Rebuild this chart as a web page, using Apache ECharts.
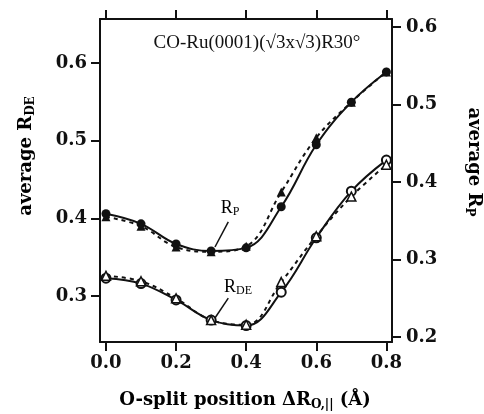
<!DOCTYPE html>
<html>
<head>
    <meta charset="utf-8">
    <script src="https://cdn.jsdelivr.net/npm/echarts@6/dist/echarts.min.js"></script>
</head>
<body style="margin:0;background-color:#ffffff">
    <div id="main" style="width:484px;height:414px;"></div>
    <script type="text/javascript">
        // O-split position (A)
        var xs = [0.0, 0.1, 0.2, 0.3, 0.4, 0.5, 0.6, 0.7, 0.8];
        // R_P (right axis): solid with filled circles, dashed with filled triangles
        var rpSolid = [0.359, 0.346, 0.320, 0.311, 0.315, 0.368, 0.448, 0.503, 0.542];
        var rpDash = [0.355, 0.343, 0.316, 0.310, 0.317, 0.387, 0.457, 0.503, 0.542];
        // R_DE (left axis): solid with open circles, dashed with open triangles
        var rdeSolid = [0.323, 0.316, 0.295, 0.269, 0.262, 0.305, 0.375, 0.435, 0.475];
        var rdeDash = [0.326, 0.319, 0.297, 0.269, 0.263, 0.318, 0.377, 0.428, 0.469];

        var xTicks = [0, 0.2, 0.4, 0.6, 0.8];
        var leftTicks = [0.3, 0.4, 0.5, 0.6];
        var rightTicks = [0.2, 0.3, 0.4, 0.5, 0.6];

        var ink = '#111';
        var tickFont = {color: ink, fontFamily: 'DejaVu Serif', fontWeight: 'bold', fontSize: 18};

        function pairs(ys) {
            var out = [];
            for (var i = 0; i < xs.length; i++) out.push([xs[i], ys[i]]);
            return out;
        }

        function valueAxis(opts) {
            var ax = {
                type: 'value',
                min: opts.min,
                max: opts.max,
                position: opts.position,
                splitLine: {show: false},
                axisLine: {show: true, onZero: false, lineStyle: {color: ink, width: 2}},
                axisTick: {show: opts.ticks != null, customValues: opts.ticks, length: 9, lineStyle: {color: ink, width: 2}},
                axisLabel: {show: !!opts.labels, customValues: opts.ticks, margin: opts.margin || 12,
                    formatter: function (v) { return v.toFixed(1); }}
            };
            for (var k in tickFont) ax.axisLabel[k] = tickFont[k];
            return ax;
        }

        var myChart = echarts.init(document.getElementById('main'));

        var option = {
            animation: false,
            title: {
                text: 'CO-Ru(0001)(\u221A3x\u221A3)R30\u00B0',
                left: 252, top: 29, textAlign: 'center',
                textStyle: {fontFamily: 'Liberation Serif', fontWeight: 'normal', fontSize: 19, color: ink}
            },
            grid: {left: 100, right: 92, top: 19, bottom: 72},
            xAxis: [
                valueAxis({min: -0.017, max: 0.816, position: 'bottom', ticks: xTicks, labels: true, margin: 12}),
                valueAxis({min: -0.017, max: 0.816, position: 'top', ticks: xTicks, labels: false})
            ],
            yAxis: [
                valueAxis({min: 0.2408, max: 0.6567, position: 'left', ticks: leftTicks, labels: true, margin: 13}),
                valueAxis({min: 0.1935, max: 0.6103, position: 'right', ticks: rightTicks, labels: true, margin: 14})
            ],
            series: [
                {
                    name: 'R_P fit', type: 'line', xAxisIndex: 0, yAxisIndex: 1,
                    data: pairs(rpSolid), smooth: 0.4, clip: false,
                    symbol: 'circle', symbolSize: 9,
                    lineStyle: {color: ink, width: 2},
                    itemStyle: {color: ink}
                },
                {
                    name: 'R_P dashed', type: 'line', xAxisIndex: 0, yAxisIndex: 1,
                    data: pairs(rpDash), smooth: 0.4, clip: false,
                    symbol: 'triangle', symbolSize: 9,
                    lineStyle: {color: ink, width: 2, type: [4, 4]},
                    itemStyle: {color: ink}
                },
                {
                    name: 'R_DE fit', type: 'line', xAxisIndex: 0, yAxisIndex: 0,
                    data: pairs(rdeSolid), smooth: 0.4, clip: false,
                    symbol: 'circle', symbolSize: 9,
                    lineStyle: {color: ink, width: 2},
                    itemStyle: {color: '#fff', borderColor: ink, borderWidth: 2}
                },
                {
                    name: 'R_DE dashed', type: 'line', xAxisIndex: 0, yAxisIndex: 0,
                    data: pairs(rdeDash), smooth: 0.4, clip: false,
                    symbol: 'triangle', symbolSize: 9,
                    lineStyle: {color: ink, width: 2, type: [4, 4]},
                    itemStyle: {color: '#fff', borderColor: ink, borderWidth: 1.5}
                }
            ]
        };
        myChart.setOption(option);

        // curve labels with leader lines, anchored in data space
        function px(x, y, yIdx) {
            return myChart.convertToPixel({xAxisIndex: 0, yAxisIndex: yIdx}, [x, y]);
        }
        var pLab = px(0.354, 0.3665, 1), pA = px(0.349, 0.3484, 1), pB = px(0.311, 0.3161, 1);
        var dLab = px(0.377, 0.3116, 0), dA = px(0.349, 0.2974, 0), dB = px(0.311, 0.2717, 0);

        var labelRich = {
            m: {fontFamily: 'Liberation Serif', fontSize: 18, lineHeight: 20, color: ink},
            s: {fontFamily: 'Liberation Serif', fontSize: 12, lineHeight: 14, padding: [8, 0, 0, 0], color: ink}
        };
        var titleRich = {
            m: {fontFamily: 'DejaVu Serif', fontWeight: 'bold', fontSize: 18, lineHeight: 22, color: ink},
            s: {fontFamily: 'DejaVu Serif', fontWeight: 'bold', fontSize: 12, lineHeight: 14, padding: [9, 0, 0, 0], color: ink}
        };

        myChart.setOption({
            graphic: [
                {type: 'text', x: pLab[0], y: pLab[1], style: {text: '{m|R}{s|P}', rich: labelRich, align: 'center', verticalAlign: 'middle'}},
                {type: 'line', shape: {x1: pA[0], y1: pA[1], x2: pB[0], y2: pB[1]}, style: {stroke: ink, lineWidth: 1.5}},
                {type: 'text', x: dLab[0], y: dLab[1], style: {text: '{m|R}{s|DE}', rich: labelRich, align: 'center', verticalAlign: 'middle'}},
                {type: 'line', shape: {x1: dA[0], y1: dA[1], x2: dB[0], y2: dB[1]}, style: {stroke: ink, lineWidth: 1.5}},
                {type: 'text', x: 26, y: 156, rotation: Math.PI / 2,
                    style: {text: '{m|average R}{s|DE}', rich: titleRich, align: 'center', verticalAlign: 'middle'}},
                {type: 'text', x: 474, y: 162, rotation: -Math.PI / 2,
                    style: {text: '{m|average R}{s|P}', rich: titleRich, align: 'center', verticalAlign: 'middle'}},
                {type: 'text', x: 245, y: 400,
                    style: {text: '{m|O-split position \u0394R}{s|O,||}{m| (\u00C5)}', rich: titleRich, align: 'center', verticalAlign: 'middle'}}
            ]
        });
    </script>
</body>
</html>
